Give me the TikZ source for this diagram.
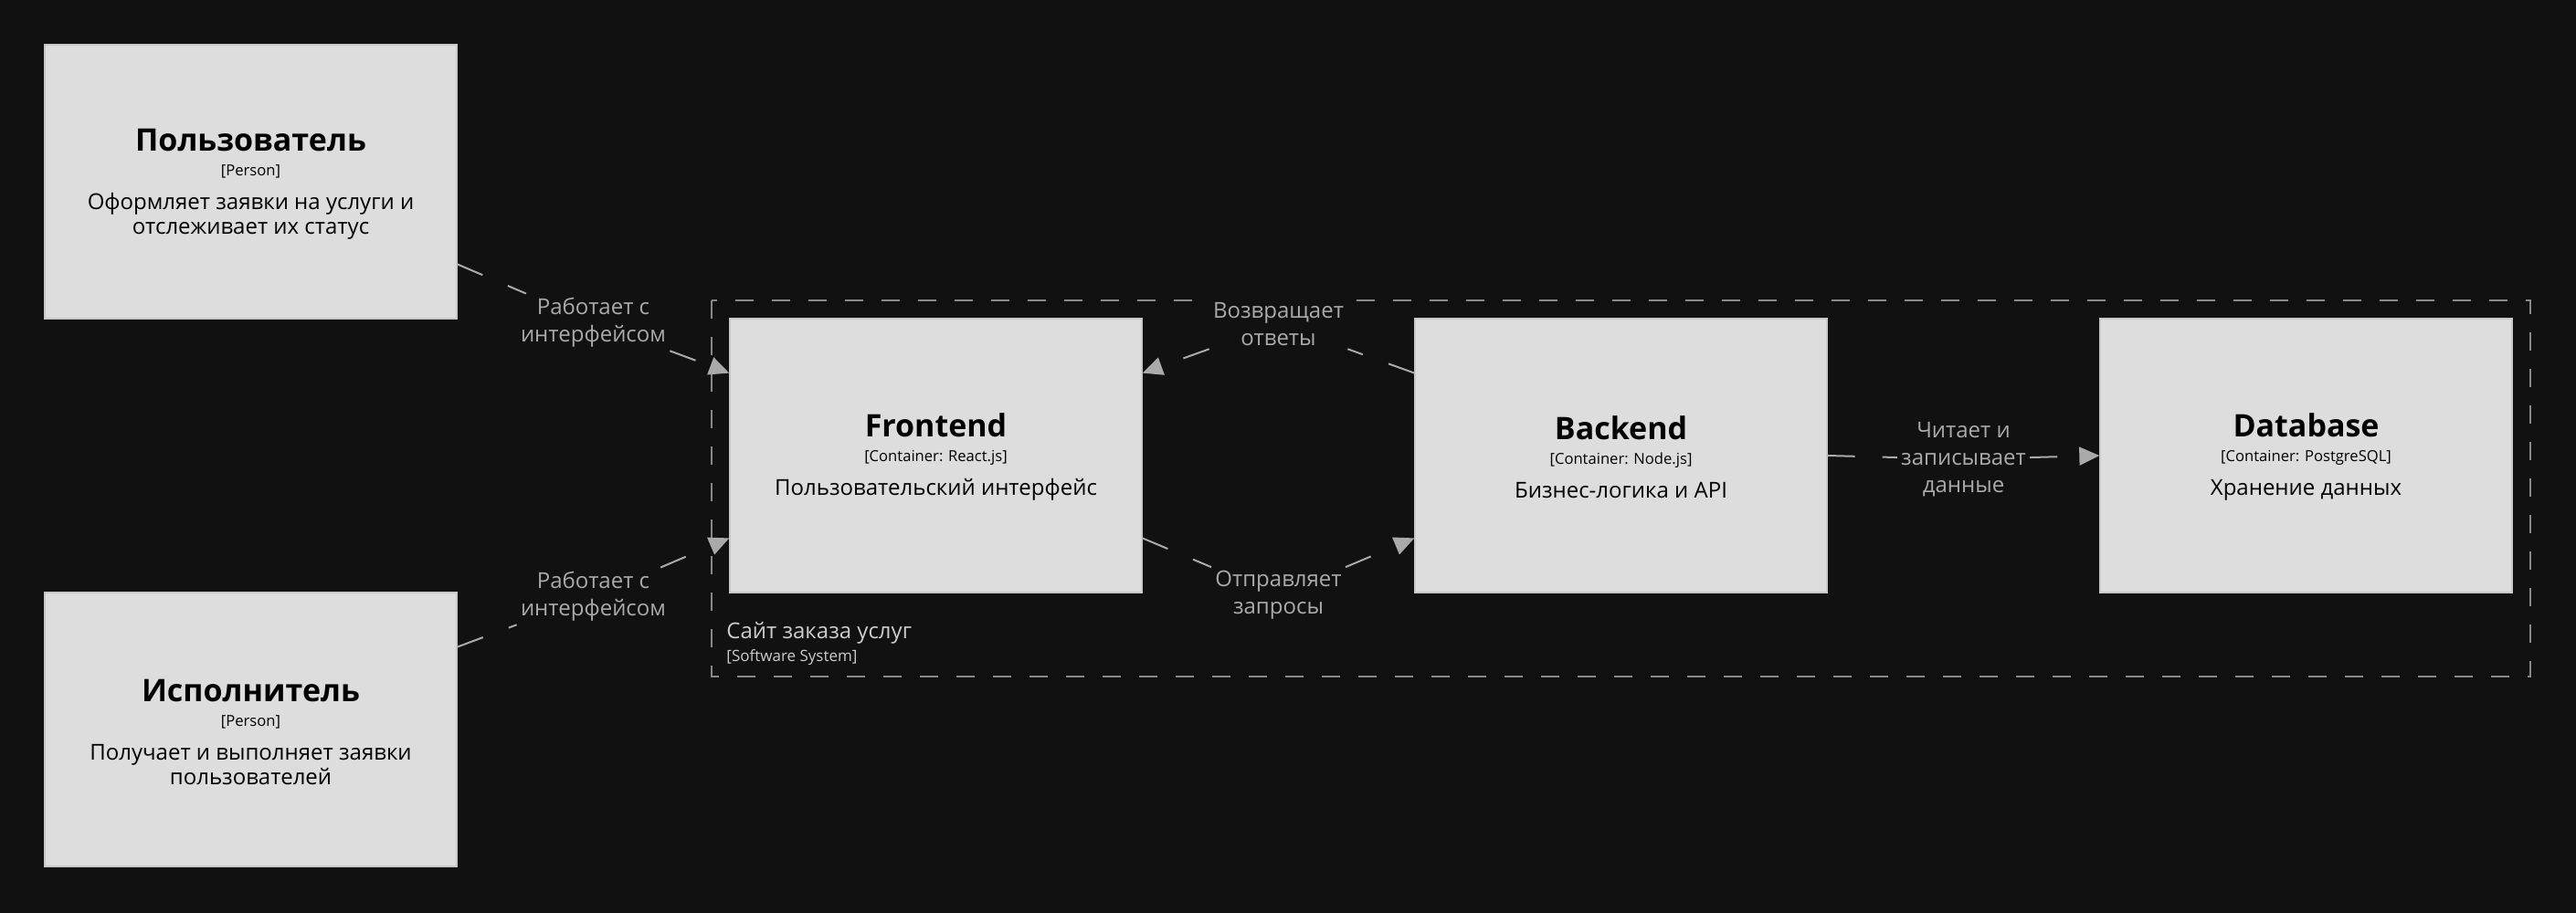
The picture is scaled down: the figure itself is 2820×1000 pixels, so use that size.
\documentclass[tikz,border=0pt]{standalone}
\usepackage{fontspec}
\setmainfont{Open Sans}
\usetikzlibrary{calc,arrows.meta}

\definecolor{bgcol}{HTML}{111111}
\definecolor{boxcol}{HTML}{DDDDDD}
\definecolor{boxline}{HTML}{C8C8C8}
\definecolor{relcol}{HTML}{AAAAAA}
\definecolor{sitecol}{HTML}{888888}
\definecolor{sitetext}{HTML}{CCCCCC}

\newcommand{\elemtitle}[1]{{\fontsize{17}{17}\selectfont\bfseries\rule{0pt}{14.8pt}#1}}
\newcommand{\elemtech}[1]{{\fontsize{8.3}{9}\selectfont #1}}

\begin{document}
\begin{tikzpicture}[x=0.5pt,y=-0.5pt,
  elem/.style={draw=boxline,line width=0.7pt,fill=boxcol,text=black,
    minimum width=225.5pt,minimum height=150pt,inner sep=0pt,align=center,
    font=\fontsize{12}{13.5}\selectfont},
  rel/.style={draw=relcol,line width=1pt,dash pattern=on 15pt off 15pt,
    -{Triangle[length=11pt,width=10pt]}},
  rellabel/.style={fill=bgcol,text=relcol,align=center,inner sep=2pt,
    font=\fontsize{12}{15}\selectfont},
  site/.style={draw=sitecol,line width=1pt,dash pattern=on 10pt off 10pt}]

  \useasboundingbox (0,0) rectangle (2820,1000);
  \fill[bgcol] (0,0) rectangle (2820,1000);

  \coordinate (U) at (274.5,199);
  \coordinate (E) at (274.5,799);
  \coordinate (F) at (1024.5,499);
  \coordinate (B) at (1774.5,499);
  \coordinate (D) at (2524.5,499);

  \draw[site] (779,329) rectangle (2770,741);
  \node[anchor=west,inner sep=0pt,text=sitetext,font=\fontsize{12}{14}\selectfont] (sitename) at (795,693) {Сайт заказа услуг};
  \node[anchor=west,inner sep=0pt,text=sitetext,font=\fontsize{8.5}{9}\selectfont] (sitetype) at (795,720) {[Software System]};

  \node[elem] (user) at (U) {\elemtitle{Пользователь}\\\elemtech{[Person]}\\[5pt]Оформляет заявки на услуги и\\отслеживает их статус};
  \node[elem] (worker) at (E) {\elemtitle{Исполнитель}\\\elemtech{[Person]}\\[5pt]Получает и выполняет заявки\\пользователей};
  \node[elem] (frontend) at (F) {\elemtitle{Frontend}\\\elemtech{[Container: React.js]}\\[5pt]Пользовательский интерфейс};
  \node[elem] (backend) at (B) {\elemtitle{Backend}\\\elemtech{[Container: Node.js]}\\[5pt]Бизнес-логика и API};
  \node[elem] (database) at (D) {\elemtitle{Database}\\\elemtech{[Container: PostgreSQL]}\\[5pt]Хранение данных};

  \coordinate (U1) at ($(user.north east)!0.8!(user.south east)$);
  \coordinate (E1) at ($(worker.north east)!0.2!(worker.south east)$);
  \coordinate (F1) at ($(frontend.north west)!0.2!(frontend.south west)$);
  \coordinate (F2) at ($(frontend.north west)!0.8!(frontend.south west)$);
  \coordinate (F3) at ($(frontend.north east)!0.2!(frontend.south east)$);
  \coordinate (F4) at ($(frontend.north east)!0.8!(frontend.south east)$);
  \coordinate (B1) at ($(backend.north west)!0.2!(backend.south west)$);
  \coordinate (B2) at ($(backend.north west)!0.8!(backend.south west)$);

  \node[rellabel] (L1) at (649.5,353) {Работает с\\интерфейсом};
  \node[rellabel] (L2) at (649.5,653) {Работает с\\интерфейсом};
  \node[rellabel] (L3) at (1399.5,355) {Возвращает\\ответы};
  \node[rellabel] (L4) at (1399.5,652) {Отправляет\\запросы};
  \node[rellabel] (L5) at (2149.5,503) {Читает и\\записывает\\данные};

  \draw[rel] (U1) -- (L1) -- (F1);
  \draw[rel] (E1) -- (L2) -- (F2);
  \draw[rel] (B1) -- (L3) -- (F3);
  \draw[rel] (F4) -- (L4) -- (B2);
  \draw[rel] (backend.east) -- (L5) -- (database.west);
\end{tikzpicture}
\end{document}
